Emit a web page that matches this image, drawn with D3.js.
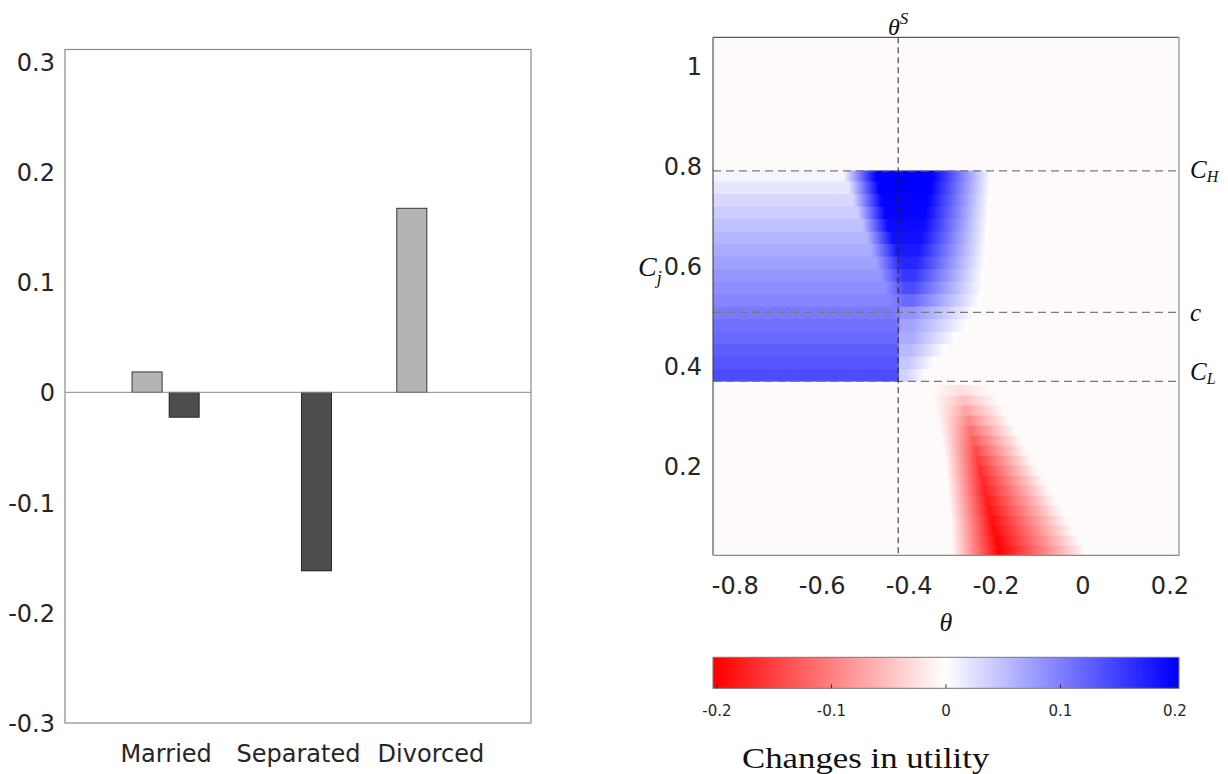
<!DOCTYPE html>
<html>
<head>
<meta charset="utf-8">
<script src="https://cdn.jsdelivr.net/npm/d3@7"></script>
<style>
  body { margin: 0; background: #fff; }
  svg { display: block; }
  .tick text { fill: #262626; }
</style>
</head>
<body>
<div id="chart"></div>
<script>
// ---- left panel: grouped bars
const categories = ["Married", "Separated", "Divorced"];
const lightBars = [0.0185, 0.0, 0.167];
const darkBars = [-0.0226, -0.162, 0.0];
const barTicks = [-0.3, -0.2, -0.1, 0, 0.1, 0.2, 0.3];

// ---- right panel: utility change map
const thetaTicks = [-0.8, -0.6, -0.4, -0.2, 0, 0.2];
const cjTicks = [0.2, 0.4, 0.6, 0.8, 1];
const colorbarTicks = [-0.2, -0.1, 0, 0.1, 0.2];
const thetaS = -0.424;
const lineNames = ["C", "c", "C"];
const lineSubs = ["H", "", "L"];
const lineValues = [0.791, 0.508, 0.370];
const backgroundValue = -0.004;

// blue rows between C_L and C_H (bottom of each band, read bottom -> top)
const blueRowBottom = [0.370, 0.395, 0.420, 0.445, 0.470, 0.495, 0.520, 0.545, 0.570, 0.595, 0.620, 0.645, 0.670, 0.695, 0.720, 0.745, 0.770];
const blueLeftValue = [0.140, 0.133, 0.126, 0.118, 0.111, 0.104, 0.096, 0.089, 0.082, 0.074, 0.066, 0.058, 0.049, 0.040, 0.031, 0.020, 0.009];
const blueEdge      = [-0.424, -0.424, -0.424, -0.424, -0.426, -0.433, -0.444, -0.454, -0.465, -0.475, -0.486, -0.496, -0.507, -0.517, -0.528, -0.538, -0.549];
const bluePeakAt    = [-0.421, -0.421, -0.421, -0.421, -0.418, -0.412, -0.408, -0.408, -0.412, -0.418, -0.428, -0.438, -0.448, -0.455, -0.462, -0.468, -0.475];
const bluePeakValue = [0.035, 0.045, 0.055, 0.065, 0.072, 0.085, 0.118, 0.142, 0.158, 0.170, 0.180, 0.187, 0.192, 0.196, 0.198, 0.200, 0.200];
const bluePeakEnd   = [-0.405, -0.400, -0.395, -0.392, -0.392, -0.390, -0.390, -0.390, -0.385, -0.380, -0.375, -0.370, -0.365, -0.360, -0.355, -0.350, -0.345];
const blueZeroAt    = [-0.360, -0.340, -0.315, -0.290, -0.265, -0.245, -0.235, -0.230, -0.228, -0.225, -0.222, -0.220, -0.218, -0.216, -0.214, -0.212, -0.210];

// red rows below C_L
const redRowBottom = [0.022, 0.042, 0.062, 0.082, 0.102, 0.122, 0.142, 0.162, 0.182, 0.202, 0.222, 0.242, 0.262, 0.282, 0.302, 0.322, 0.342];
const redStart     = [-0.300, -0.301, -0.302, -0.303, -0.305, -0.307, -0.309, -0.311, -0.313, -0.316, -0.319, -0.323, -0.327, -0.332, -0.337, -0.343, -0.350];
const redPeakAt    = [-0.192, -0.197, -0.203, -0.208, -0.214, -0.219, -0.225, -0.230, -0.235, -0.240, -0.246, -0.251, -0.257, -0.262, -0.268, -0.273, -0.279];
const redPeakValue = [-0.200, -0.197, -0.193, -0.189, -0.185, -0.180, -0.175, -0.169, -0.162, -0.153, -0.142, -0.128, -0.112, -0.093, -0.072, -0.050, -0.025];
const redZeroAt    = [0.005, -0.009, -0.023, -0.036, -0.050, -0.063, -0.077, -0.090, -0.104, -0.117, -0.130, -0.143, -0.156, -0.169, -0.182, -0.195, -0.208];

let width = 1228, height = 774;
const sans = "'DejaVu Sans', sans-serif";
const serif = "'Liberation Serif', 'Times New Roman', serif";
// plain hyphen minus like the original figure
const tickText = d => String(+(+d).toFixed(1));

let svg = d3.select("#chart").append("svg")
    .attr("width", width).attr("height", height);
let defs = svg.append("defs");

// ================= left panel =================
let xL = d3.scaleLinear().domain([0.24, 3.76]).range([65, 531]);
let yL = d3.scaleLinear().domain([-0.3, 0.311]).range([723, 49.5]);
const groupOffset = 0.14, barWidth = 0.227;

let left = svg.append("g");

function drawBars(values, offset, fill) {
    left.append("g").selectAll("rect")
        .data(values)
        .join("rect")
        .attr("x", (d, i) => xL(i + 1 + offset - barWidth / 2))
        .attr("width", xL(barWidth) - xL(0))
        .attr("y", d => yL(Math.max(d, 0)))
        .attr("height", d => Math.abs(yL(d) - yL(0)))
        .attr("fill", fill)
        .attr("stroke", "#111")
        .attr("stroke-width", 0.8);
}
drawBars(lightBars, -groupOffset, "#b4b4b4");
drawBars(darkBars, groupOffset, "#4d4d4d");

// zero baseline
left.append("line")
    .attr("x1", xL.range()[0]).attr("x2", xL.range()[1])
    .attr("y1", yL(0)).attr("y2", yL(0))
    .attr("stroke", "#8a8a8a").attr("stroke-width", 1);

left.append("rect")
    .attr("x", xL.range()[0]).attr("y", yL.range()[1])
    .attr("width", xL.range()[1] - xL.range()[0])
    .attr("height", yL.range()[0] - yL.range()[1])
    .attr("fill", "none").attr("stroke", "#8c8c8c").attr("stroke-width", 1.2);

let yAxisL = left.append("g")
    .attr("transform", "translate(" + xL.range()[0] + ",0)")
    .call(d3.axisLeft(yL).tickValues(barTicks).tickSize(0).tickPadding(10).tickFormat(tickText));
yAxisL.select(".domain").remove();
yAxisL.selectAll("text").style("font-family", sans).style("font-size", "24px").attr("dy", "0.36em");

let xAxisL = left.append("g")
    .attr("transform", "translate(0," + yL.range()[0] + ")")
    .call(d3.axisBottom(xL).tickValues([1, 2, 3]).tickSize(0).tickPadding(21.5)
        .tickFormat((d, i) => categories[i]));
xAxisL.select(".domain").remove();
xAxisL.selectAll("text").style("font-family", sans).style("font-size", "24px");

// ================= right panel =================
let xR = d3.scaleLinear().domain([-0.85, 0.222]).range([713, 1179]);
let yR = d3.scaleLinear().domain([0.022, 1.058]).range([555.3, 37.3]);
let color = d3.scaleLinear().domain([-0.2, 0, 0.2]).range(["#ff0000", "#ffffff", "#0000ff"]).clamp(true);

let heat = svg.append("g");
defs.append("clipPath").attr("id", "heatClip").append("rect")
    .attr("x", xR.range()[0]).attr("y", yR.range()[1])
    .attr("width", xR.range()[1] - xR.range()[0])
    .attr("height", yR.range()[0] - yR.range()[1]);
heat.attr("clip-path", "url(#heatClip)");

heat.append("rect")
    .attr("x", xR.range()[0]).attr("y", yR.range()[1])
    .attr("width", xR.range()[1] - xR.range()[0])
    .attr("height", yR.range()[0] - yR.range()[1])
    .attr("fill", color(backgroundValue));

function addRowGradient(id, stops) {
    let x0 = xR.range()[0], x1 = xR.range()[1];
    let g = defs.append("linearGradient").attr("id", id)
        .attr("gradientUnits", "userSpaceOnUse")
        .attr("x1", x0).attr("x2", x1).attr("y1", 0).attr("y2", 0);
    let last = 0;
    g.selectAll("stop").data(stops).join("stop")
        .attr("offset", d => {
            last = Math.max(last, (xR(d[0]) - x0) / (x1 - x0));
            return last;
        })
        .attr("stop-color", d => color(d[1]));
}

// blue band rows
let blueRows = blueRowBottom.map((b, i) => ({
    bottom: b,
    top: i + 1 < blueRowBottom.length ? blueRowBottom[i + 1] : lineValues[0],
    stops: [[-0.85, blueLeftValue[i]], [blueEdge[i], blueLeftValue[i]],
            [bluePeakAt[i], bluePeakValue[i]], [bluePeakEnd[i], bluePeakValue[i]],
            [blueZeroAt[i], 0], [blueZeroAt[i] + 0.005, backgroundValue]]
}));
// red band rows
let redRows = redRowBottom.map((b, i) => ({
    bottom: b,
    top: i + 1 < redRowBottom.length ? redRowBottom[i + 1] : b + 0.02,
    stops: [[redStart[i], backgroundValue], [redPeakAt[i], redPeakValue[i]],
            [redZeroAt[i], backgroundValue]]
}));
let rows = blueRows.concat(redRows);
rows.forEach((r, i) => addRowGradient("row" + i, r.stops));

heat.selectAll("rect.row")
    .data(rows)
    .join("rect")
    .attr("class", "row")
    .attr("x", xR.range()[0])
    .attr("width", xR.range()[1] - xR.range()[0])
    .attr("y", d => yR(d.top) - 0.3)
    .attr("height", d => yR(d.bottom) - yR(d.top) + 0.6)
    .attr("fill", (d, i) => "url(#row" + i + ")");

// reference lines
heat.selectAll("line.h")
    .data(lineValues)
    .join("line")
    .attr("class", "h")
    .attr("x1", xR.range()[0]).attr("x2", xR.range()[1])
    .attr("y1", d => yR(d)).attr("y2", d => yR(d))
    .attr("stroke", "#7a7a7a").attr("stroke-width", 1.2)
    .attr("stroke-dasharray", "8,5");
heat.append("line")
    .attr("x1", xR(thetaS)).attr("x2", xR(thetaS))
    .attr("y1", yR.range()[1]).attr("y2", yR.range()[0])
    .attr("stroke", "#222").attr("stroke-width", 1)
    .attr("stroke-dasharray", "6,4");

// frame
svg.append("path")
    .attr("d", "M" + xR.range()[0] + "," + yR.range()[0] + "V" + yR.range()[1] + "H" + xR.range()[1])
    .attr("fill", "none").attr("stroke", "#333").attr("stroke-width", 1);
svg.append("path")
    .attr("d", "M" + xR.range()[1] + "," + yR.range()[1] + "V" + yR.range()[0] + "H" + xR.range()[0])
    .attr("fill", "none").attr("stroke", "#8c8c8c").attr("stroke-width", 1.2);

let xAxisR = svg.append("g")
    .attr("transform", "translate(0," + yR.range()[0] + ")")
    .call(d3.axisBottom(xR).tickValues(thetaTicks).tickSize(0).tickPadding(22).tickFormat(tickText));
xAxisR.select(".domain").remove();
xAxisR.selectAll("text").style("font-family", sans).style("font-size", "24px");

let yAxisR = svg.append("g")
    .attr("transform", "translate(" + xR.range()[0] + ",0)")
    .call(d3.axisLeft(yR).tickValues(cjTicks).tickSize(0).tickPadding(11).tickFormat(tickText));
yAxisR.select(".domain").remove();
yAxisR.selectAll("text").style("font-family", sans).style("font-size", "24px").attr("dy", "0.36em");

// math labels
let labels = svg.append("g").style("font-family", serif).style("font-style", "italic").attr("fill", "#111");

labels.selectAll("text.ref")
    .data(lineValues)
    .join("text")
    .attr("class", "ref")
    .attr("x", xR.range()[1] + 11)
    .attr("y", (d, i) => yR(d) + (lineSubs[i] == "H" ? 7.5 : (lineSubs[i] == "L" ? -1.5 : 9)))
    .style("font-size", "25px")
    .each(function(d, i) {
        let t = d3.select(this);
        t.append("tspan").text(lineNames[i]);
        if (lineSubs[i]) {
            t.append("tspan").attr("dy", 4).style("font-size", "16px").text(lineSubs[i]);
        }
    });

let ts = labels.append("text")
    .attr("x", xR(thetaS)).attr("y", 35)
    .attr("text-anchor", "middle")
    .style("font-size", "24px");
ts.append("tspan").text("θ");
ts.append("tspan").attr("dy", -11).style("font-size", "17px").text("S");

labels.append("text")
    .attr("x", (xR.range()[0] + xR.range()[1]) / 2).attr("y", 631)
    .attr("text-anchor", "middle")
    .style("font-size", "26px")
    .text("θ");

let cj = labels.append("text")
    .attr("x", 638).attr("y", 276)
    .style("font-size", "28px");
cj.append("tspan").text("C");
cj.append("tspan").attr("dy", 8).style("font-size", "18px").text("j");

// ================= colorbar =================
let xC = d3.scaleLinear().domain([-0.203, 0.204]).range([713, 1179]);
const cbTop = 657.3, cbBottom = 688.3;

let cbGrad = defs.append("linearGradient").attr("id", "cbGrad")
    .attr("gradientUnits", "userSpaceOnUse")
    .attr("x1", xC.range()[0]).attr("x2", xC.range()[1]).attr("y1", 0).attr("y2", 0);
cbGrad.selectAll("stop")
    .data(color.domain())
    .join("stop")
    .attr("offset", d => (xC(d) - xC.range()[0]) / (xC.range()[1] - xC.range()[0]))
    .attr("stop-color", d => color(d));

svg.append("rect")
    .attr("x", xC.range()[0]).attr("y", cbTop)
    .attr("width", xC.range()[1] - xC.range()[0]).attr("height", cbBottom - cbTop)
    .attr("fill", "url(#cbGrad)")
    .attr("stroke", "#777").attr("stroke-width", 1);

let cbAxis = svg.append("g")
    .attr("transform", "translate(0," + cbBottom + ")")
    .call(d3.axisBottom(xC).tickValues(colorbarTicks).tickSize(-4).tickPadding(17).tickFormat(tickText));
cbAxis.select(".domain").remove();
cbAxis.selectAll("line").attr("stroke", "#333");
cbAxis.selectAll("text").style("font-family", sans).style("font-size", "15px");

svg.append("text")
    .attr("transform", "translate(742,768) scale(1.16,1)")
    .style("font-family", serif).style("font-size", "30px")
    .attr("fill", "#111")
    .text("Changes in utility");
</script>
</body>
</html>
